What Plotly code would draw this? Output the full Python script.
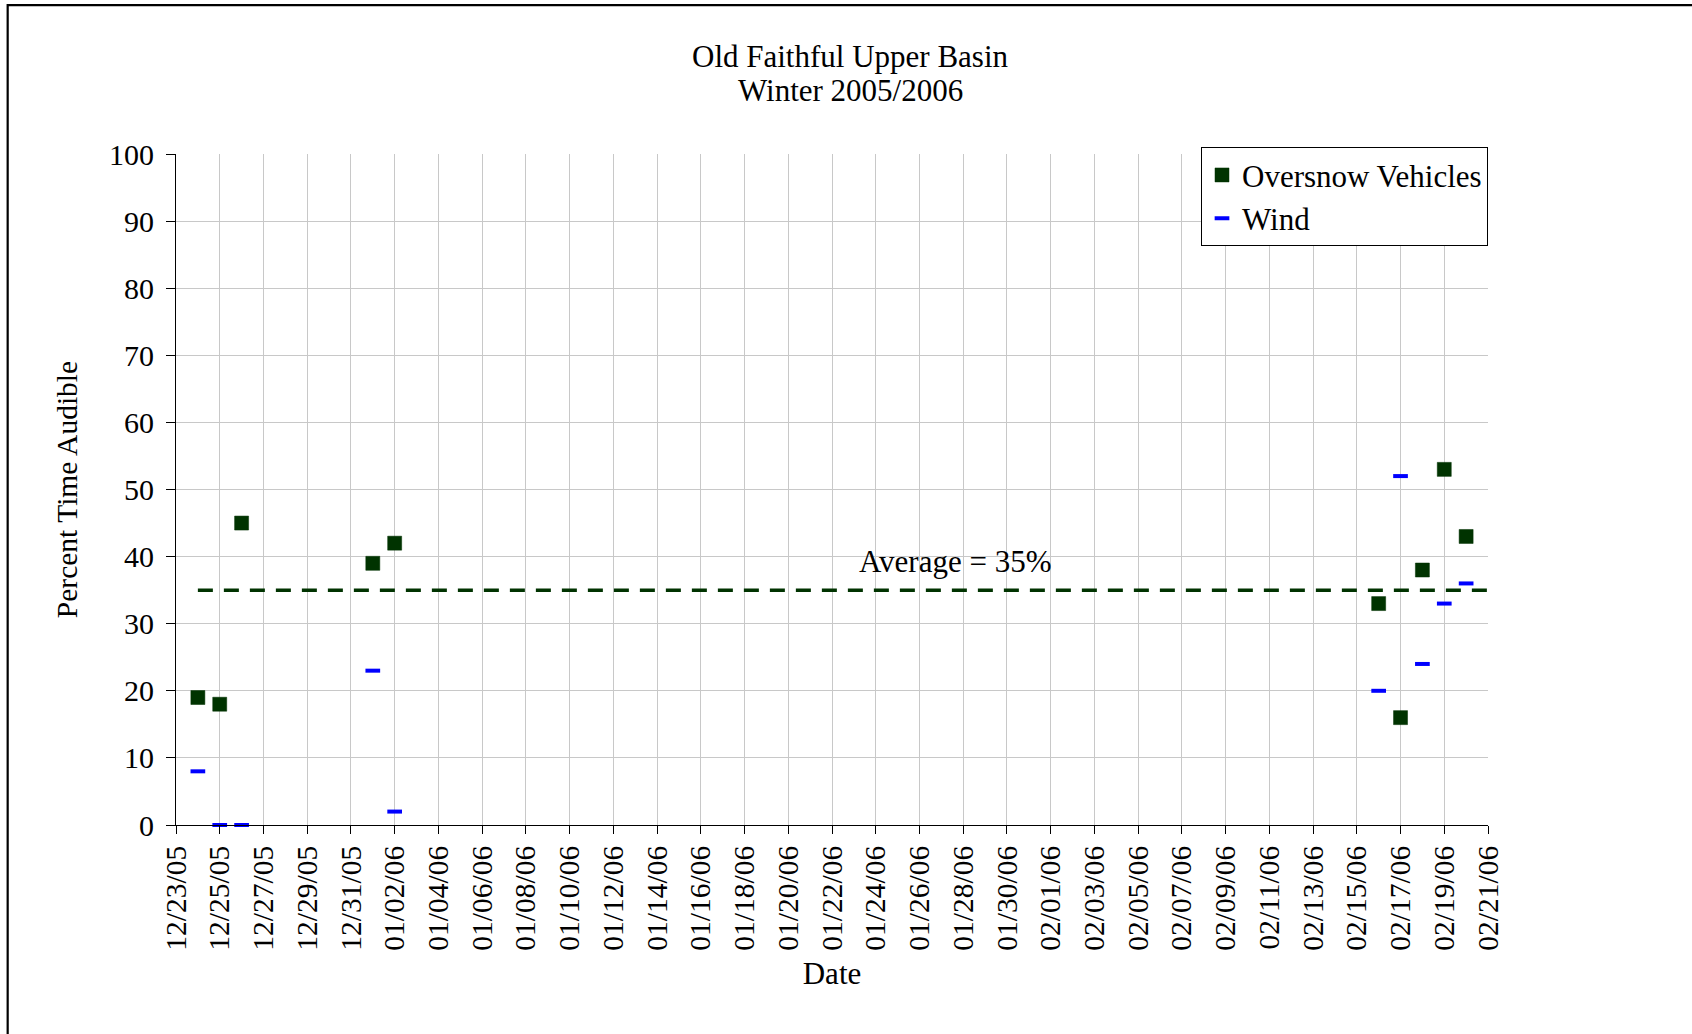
import plotly.graph_objects as go

# ---- data ----
dates = ["2005-12-24", "2005-12-25", "2005-12-26", "2006-01-01", "2006-01-02",
         "2006-02-16", "2006-02-17", "2006-02-18", "2006-02-19", "2006-02-20"]
oversnow = [19, 18, 45, 39, 42, 33, 16, 38, 53, 43]
wind = [8, 0, 0, 23, 2, 20, 52, 24, 33, 36]
average_value = 35
average_label = "Average = 35%"
title_line1 = "Old Faithful Upper Basin"
title_line2 = "Winter 2005/2006"
x_start = "2005-12-23"
x_end = "2006-02-21"

FONT = "Liberation Serif"
DARK_GREEN = "#003300"
W, H = 1692, 1034

fig = go.Figure()

fig.add_trace(go.Scatter(
    x=[dates[0], x_end], y=[average_value, average_value],
    mode="lines", showlegend=False, hoverinfo="skip",
    line=dict(color=DARK_GREEN, width=3.5, dash="15px,11px"),
))

fig.add_trace(go.Scatter(
    x=dates, y=oversnow, mode="markers", name="Oversnow Vehicles",
    marker=dict(symbol="square", size=14, color=DARK_GREEN,
                line=dict(color=DARK_GREEN, width=0.5)),
    cliponaxis=False,
))

fig.add_trace(go.Scatter(
    x=dates, y=wind, mode="markers", name="Wind",
    marker=dict(symbol="line-ew", size=10.5,
                line=dict(color="#0000FF", width=4)),
    cliponaxis=False,
))

fig.add_annotation(
    x="2006-01-27 15:00", y=39.3, text=average_label, showarrow=False,
    font=dict(family=FONT, size=31, color="black"),
    xanchor="center", yanchor="middle",
)

# second title line
fig.add_annotation(
    xref="paper", yref="paper",
    x=(850 - 176) / 1312, y=(825 - 90.6) / 671,
    text=title_line2, showarrow=False,
    font=dict(family=FONT, size=31, color="black"),
    xanchor="center", yanchor="middle",
)

# page frame
fig.add_shape(type="rect", xref="paper", yref="paper",
              x0=-0.1283, x1=1.6, y0=-0.6, y1=1.222,
              line=dict(color="black", width=2.2), layer="above")

fig.update_layout(
    width=W, height=H,
    margin=dict(l=176, r=204, t=154, b=209),
    paper_bgcolor="white", plot_bgcolor="white",
    font=dict(family=FONT, size=30, color="black"),
    title=dict(text=title_line1,
               x=850 / W, xref="container", xanchor="center",
               y=1 - 56 / H, yref="container", yanchor="middle",
               font=dict(family=FONT, size=31, color="black")),
    legend=dict(x=1, xanchor="right", y=1.01, yanchor="top",
                bgcolor="white", bordercolor="black", borderwidth=1,
                font=dict(family=FONT, size=31, color="black")),
    showlegend=True,
)

fig.update_xaxes(
    type="date", range=[x_start, x_end],
    tick0=x_start, dtick=2 * 86400000, tickformat="%m/%d/%y", tickangle=-90,
    ticks="outside", ticklen=8, tickcolor="black",
    showgrid=True, gridcolor="#c8c8c8", gridwidth=1,
    showline=True, linecolor="black", linewidth=1, zeroline=False,
    tickfont=dict(family=FONT, size=29.5),
    title=dict(text="Date", font=dict(family=FONT, size=31), standoff=12),
)
fig.update_yaxes(
    range=[0, 100], dtick=10,
    ticks="outside", ticklen=9, tickcolor="black", ticklabelstandoff=6,
    showgrid=True, gridcolor="#c8c8c8", gridwidth=1,
    showline=True, linecolor="black", linewidth=1, zeroline=False,
    tickfont=dict(family=FONT, size=30),
    title=dict(text="Percent Time Audible", font=dict(family=FONT, size=29.5), standoff=22),
)

fig.write_html("out.html", config={"displayModeBar": False},
               post_script="document.body.style.margin='0px';")
